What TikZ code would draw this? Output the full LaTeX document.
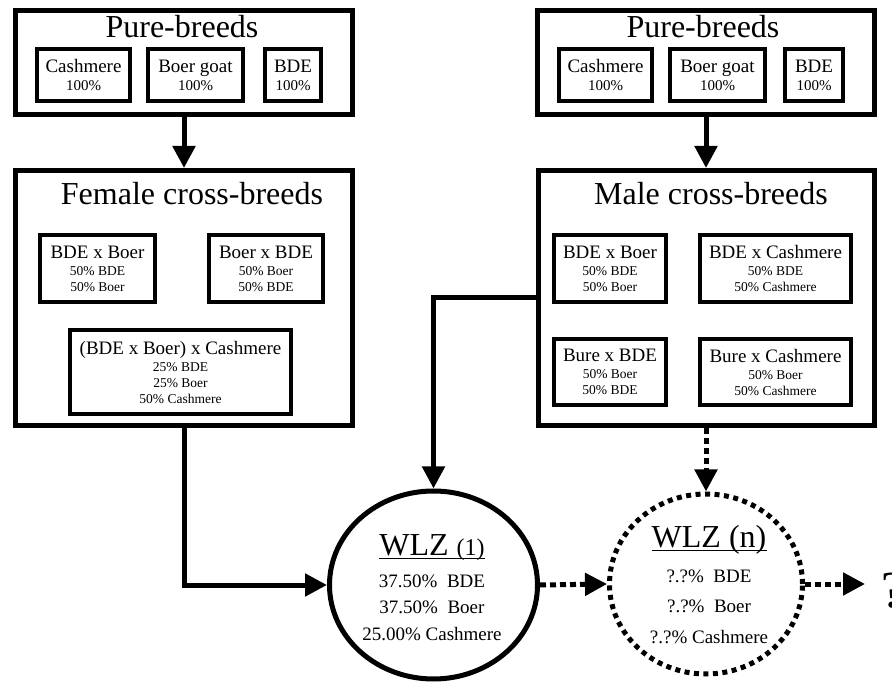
\documentclass[tikz,border=0pt]{standalone}
\usepackage{fontspec}
\setmainfont{Liberation Serif}
\usetikzlibrary{arrows.meta,shapes.geometric}

\begin{document}
\begin{tikzpicture}[x=1pt,y=-1pt,
        group/.style={draw,line width=5pt,inner sep=0pt},
        breed/.style={draw,line width=4pt,inner sep=0pt,align=center,font=\fontsize{13.5}{16}\selectfont},
        pure/.style={breed,minimum height=52pt,font=\fontsize{15}{18}\selectfont},
        cross/.style={breed,minimum height=67pt},
        heading/.style={anchor=base,font=\fontsize{32}{36}\selectfont},
        wlz/.style={ellipse,draw,line width=5pt,inner sep=0pt},
        wlztitle/.style={anchor=base,inner sep=0pt,font=\fontsize{32}{36}\selectfont},
        share/.style={anchor=base,font=\fontsize{19}{22}\selectfont},
        flow/.style={line width=5pt,-{Triangle[length=22pt,width=22pt]}},
        maybe/.style={flow,dash pattern=on 6pt off 4pt}]
        \useasboundingbox (0,0) rectangle (892,684);

        % pure-breeds
        \node[group,minimum width=337pt,minimum height=104pt](pureL) at (184,62.5) {};
        \node[heading](pureLt) at (182,38) {Pure-breeds};
        \node[pure,minimum width=93pt](cashL) at (83.5,75) {{\fontsize{19}{18}\selectfont Cashmere}\\100\%};
        \node[pure,minimum width=95pt](boerL) at (195.5,75) {{\fontsize{19}{18}\selectfont Boer goat}\\100\%};
        \node[pure,minimum width=56pt](bdeL) at (293,75) {{\fontsize{19}{18}\selectfont BDE}\\100\%};

        \node[group,minimum width=337pt,minimum height=104pt](pureR) at (706,62.5) {};
        \node[heading](pureRt) at (703,38) {Pure-breeds};
        \node[pure,minimum width=93pt](cashR) at (605.5,75) {{\fontsize{19}{18}\selectfont Cashmere}\\100\%};
        \node[pure,minimum width=95pt](boerR) at (717.5,75) {{\fontsize{19}{18}\selectfont Boer goat}\\100\%};
        \node[pure,minimum width=58pt](bdeR) at (814,75) {{\fontsize{19}{18}\selectfont BDE}\\100\%};

        % cross-breeds
        \node[group,minimum width=337pt,minimum height=255pt](female) at (184,298) {};
        \node[heading](femalet) at (192,205) {Female cross-breeds};
        \node[cross,minimum width=115pt](bdeboerF) at (97.5,268.5) {{\fontsize{19}{18}\selectfont BDE x Boer}\\[1pt]50\% BDE\\50\% Boer};
        \node[cross,minimum width=114pt](boerbdeF) at (266,268.5) {{\fontsize{19}{18}\selectfont Boer x BDE}\\[1pt]50\% Boer\\50\% BDE};
        \node[cross,minimum width=221pt,minimum height=84pt](mixF) at (180.5,372) {{\fontsize{19}{18}\selectfont (BDE x Boer) x Cashmere}\\[1pt]25\% BDE\\25\% Boer\\50\% Cashmere};

        \node[group,minimum width=336pt,minimum height=255pt](male) at (706,298) {};
        \node[heading](malet) at (711,205) {Male cross-breeds};
        \node[cross,minimum width=112pt](bdeboerM) at (610,268.5) {{\fontsize{19}{18}\selectfont BDE x Boer}\\[1pt]50\% BDE\\50\% Boer};
        \node[cross,minimum width=151pt](bdecashM) at (775.5,268.5) {{\fontsize{19}{18}\selectfont BDE x Cashmere}\\[1pt]50\% BDE\\50\% Cashmere};
        \node[cross,minimum width=112pt,minimum height=66pt](burebdeM) at (610,372) {{\fontsize{19}{18}\selectfont Bure x BDE}\\[1pt]50\% Boer\\50\% BDE};
        \node[cross,minimum width=151pt,minimum height=66pt](burecashM) at (775.5,372) {{\fontsize{19}{18}\selectfont Bure x Cashmere}\\[1pt]50\% Boer\\50\% Cashmere};

        % offspring
        \node[wlz,minimum width=208pt,minimum height=188pt](wlz1) at (433.5,585) {};
        \node[wlztitle](wlz1a) at (432,555) {WLZ {\fontsize{24}{26}\selectfont(1)}};
        \draw[line width=1.6pt]([yshift=-3.5pt]wlz1a.base west)--([yshift=-3.5pt]wlz1a.base east);
        \node[share](wlz1b) at (432,587) {37.50\%~~BDE};
        \node[share](wlz1c) at (432,613) {37.50\%~~Boer};
        \node[share](wlz1d) at (432,640) {25.00\% Cashmere};

        \node[wlz,dash pattern=on 5pt off 4.5pt,minimum width=193pt,minimum height=180pt](wlzn) at (706,584) {};
        \node[wlztitle](wlzna) at (709,547) {WLZ (n)};
        \draw[line width=1.6pt]([yshift=-3.5pt]wlzna.base west)--([yshift=-3.5pt]wlzna.base east);
        \node[share](wlznb) at (709,582) {?.?\%~~BDE};
        \node[share](wlznc) at (709,612) {?.?\%~~Boer};
        \node[share](wlznd) at (709,643) {?.?\% Cashmere};

        \node[anchor=base west,inner sep=0pt,font=\fontsize{52}{56}\selectfont](qmark) at (881,607) {?};

        \draw[flow](pureL)--(female);
        \draw[flow](pureR)--(male);
        \draw[flow](female.south)|-(wlz1.west);
        \draw[flow](male.west)-|(wlz1.north);
        \draw[maybe](male.south)--(wlzn.north);
        \draw[maybe](wlz1.east)--(wlzn.west);
        \draw[maybe,shorten >=16pt](wlzn.east)--(wlzn.east-|qmark.west);
\end{tikzpicture}
\end{document}
